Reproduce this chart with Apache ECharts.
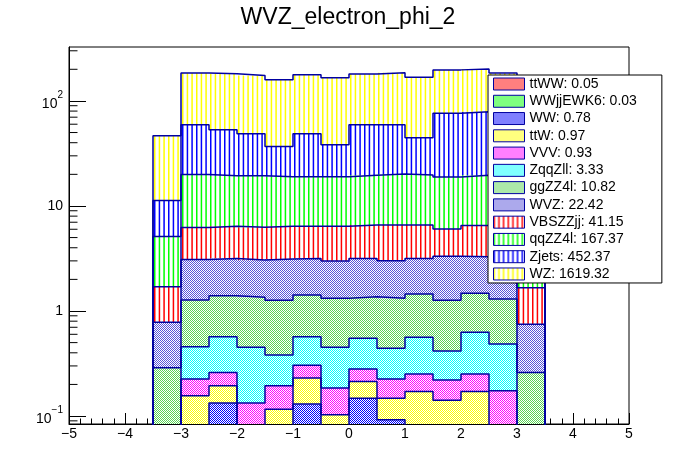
<!DOCTYPE html>
<html>
<head>
<meta charset="utf-8">
<script src="https://cdn.jsdelivr.net/npm/echarts@6.0.0/dist/echarts.min.js"></script>
<style>
  html, body { margin: 0; padding: 0; background: #fff; }
  #chart { width: 696px; height: 472px; }
</style>
</head>
<body>
<div id="chart"></div>
<script>
// bin edges of the phi histogram (0.5 wide, -3.5 .. 3.5)
const binEdges = [-3.5, -3, -2.5, -2, -1.5, -1, -0.5, 0, 0.5, 1, 1.5, 2, 2.5, 3, 3.5];

// bin contents per process, stacked bottom -> top in this order
const ttWW     = [0.002, 0.004, 0.004, 0.004, 0.004, 0.004, 0.004, 0.004, 0.004, 0.004, 0.004, 0.004, 0.004, 0.002];
const WWjjEWK6 = [0.001, 0.002, 0.002, 0.002, 0.002, 0.002, 0.002, 0.002, 0.002, 0.002, 0.002, 0.002, 0.002, 0.001];
const WW       = [0.005, 0.020, 0.127, 0.030, 0.040, 0.124, 0.030, 0.142, 0.086, 0.030, 0.030, 0.030, 0.030, 0.005];
const ttW      = [0.003, 0.130, 0.061, 0.030, 0.070, 0.100, 0.067, 0.065, 0.056, 0.135, 0.105, 0.135, 0.030, 0.003];
const VVV      = [0.010, 0.069, 0.066, 0.067, 0.078, 0.075, 0.082, 0.067, 0.077, 0.080, 0.079, 0.080, 0.108, 0.010];
const ZqqZll   = [0.040, 0.233, 0.310, 0.319, 0.188, 0.265, 0.267, 0.270, 0.217, 0.312, 0.197, 0.377, 0.312, 0.040];
const ggZZ4l   = [0.227, 0.814, 0.827, 0.897, 0.882, 0.849, 0.868, 0.817, 0.878, 0.887, 0.847, 0.845, 0.814, 0.199];
const WVZ      = [0.493, 1.825, 1.769, 1.702, 1.854, 1.747, 1.665, 1.799, 1.684, 1.716, 2.065, 1.820, 1.850, 0.488];
const VBSZZjj  = [0.920, 3.138, 3.251, 3.226, 3.299, 3.251, 3.432, 3.435, 3.597, 3.435, 2.718, 3.222, 3.250, 0.916];
const qqZZ4l   = [3.42, 13.64, 13.02, 13.16, 12.60, 12.60, 12.52, 12.96, 13.53, 13.10, 12.80, 13.05, 13.10, 3.54];
const Zjets    = [6.13, 39.4, 33.8, 29.3, 17.7, 29.7, 19.4, 39.7, 39.2, 24.9, 57.6, 59.4, 50.0, 6.3];
const WZ       = [35.4, 125.6, 127.7, 125.6, 121.9, 128.3, 127.8, 121.6, 125.6, 123.4, 121.0, 122.7, 114.6, 36.0];

const processNames  = ['ttWW', 'WWjjEWK6', 'WW', 'ttW', 'VVV', 'ZqqZll', 'ggZZ4l', 'WVZ', 'VBSZZjj', 'qqZZ4l', 'Zjets', 'WZ'];
const processValues = [ttWW, WWjjEWK6, WW, ttW, VVV, ZqqZll, ggZZ4l, WVZ, VBSZZjj, qqZZ4l, Zjets, WZ];
const processTotals = [0.05, 0.03, 0.78, 0.97, 0.93, 3.33, 10.82, 22.42, 41.15, 167.37, 452.37, 1619.32];
const processColors = ['#ff0000', '#00ff00', '#0000ff', '#ffff00', '#ff00ff', '#00ffff', '#59d454', '#5954d9',
                       '#ff0000', '#00ff00', '#0000ff', '#ffff00'];
const processHatch  = ['dots', 'dots', 'dots', 'dots', 'dots', 'dots', 'dots', 'dots',
                       'vlines', 'vlines', 'vlines', 'vlines'];

// y axis tick labels (log decades)
const yTickExponents = [-1, 0, 1, 2];
const yTickLabels = ['{b|10}{s|\u22121}', '{n|1}', '{n|10}', '{b|10}{s|2}'];

const Y_MIN = 0.084;
const Y_MAX = 326;
const Y_FLOOR = 0.05;           // below the axis, gets clipped
const LINE_COLOR = '#0000a0';
const FONT = "'Liberation Sans', Arial, Helvetica, sans-serif";

// ROOT-like fill patterns drawn on small canvases
function makePattern(color, kind) {
    const c = document.createElement('canvas');
    let g;
    if (kind === 'dots') {
        c.width = 2; c.height = 2;
        g = c.getContext('2d');
        g.fillStyle = '#ffffff'; g.fillRect(0, 0, 2, 2);
        g.fillStyle = color;
        g.fillRect(0, 0, 1, 1);
        g.fillRect(1, 1, 1, 1);
    } else {
        c.width = 14; c.height = 4;
        g = c.getContext('2d');
        g.fillStyle = '#ffffff'; g.fillRect(0, 0, 14, 4);
        g.fillStyle = color;
        [0, 4.67, 9.33].forEach(x => g.fillRect(x, 0, 1.5, 4));
    }
    return { image: c, repeat: 'repeat' };
}

const patterns = processColors.map((col, k) => makePattern(col, processHatch[k]));

// cumulative stack levels
const cum = [];
processValues.forEach((vals, k) => {
    cum.push(vals.map((v, i) => (k ? cum[k - 1][i] : 0) + v));
});

const fillSeries = processNames.map((name, k) => ({
    name: name,
    type: 'custom',
    coordinateSystem: 'cartesian2d',
    clip: true,
    z: 2,
    silent: true,
    itemStyle: { color: patterns[k], borderColor: LINE_COLOR, borderWidth: 1 },
    encode: { x: [0, 1], y: 3 },
    data: processValues[k].map((v, i) => [binEdges[i], binEdges[i + 1], k ? cum[k - 1][i] : 0, cum[k][i]]),
    renderItem: (params, api) => {
        const lo = Math.min(Math.max(api.value(2), Y_MIN), Y_MAX);
        const hi = Math.min(Math.max(api.value(3), Y_MIN), Y_MAX);
        if (hi <= lo) return null;
        const a = api.coord([api.value(0), lo]);
        const b = api.coord([api.value(1), hi]);
        return {
            type: 'rect',
            shape: { x: a[0], y: b[1], width: b[0] - a[0], height: a[1] - b[1] },
            style: { fill: patterns[k] }
        };
    }
}));

// step outline of every cumulative histogram
const outlineSeries = cum.map(level => {
    const pts = [[binEdges[0], Y_FLOOR]];
    level.forEach((v, i) => {
        const y = Math.max(v, Y_FLOOR);
        pts.push([binEdges[i], y], [binEdges[i + 1], y]);
    });
    pts.push([binEdges[binEdges.length - 1], Y_FLOOR]);
    return {
        type: 'line',
        data: pts,
        symbol: 'none',
        showSymbol: false,
        clip: true,
        silent: true,
        z: 3,
        lineStyle: { color: LINE_COLOR, width: 1.5 }
    };
});

// log minor ticks 2..9 per decade
const yMinorTicks = [];
for (let e = -2; e <= 2; e++) {
    for (let m = 2; m <= 9; m++) {
        const v = m * Math.pow(10, e);
        if (v > Y_MIN && v < Y_MAX) yMinorTicks.push(v);
    }
}

const minorTickSeries = {
    type: 'custom',
    coordinateSystem: 'cartesian2d',
    silent: true,
    z: 5,
    encode: { x: 0, y: 1 },
    data: yMinorTicks.map(v => [0, v]),
    renderItem: (params, api) => {
        const y = api.coord([0, api.value(1)])[1];
        const x = params.coordSys.x;
        return {
            type: 'line',
            shape: { x1: x, y1: y, x2: x + 8.5, y2: y },
            style: { stroke: '#000', lineWidth: 1 }
        };
    }
};

const chart = echarts.init(document.getElementById('chart'));

chart.setOption({
    animation: false,
    backgroundColor: '#ffffff',
    textStyle: { fontFamily: FONT },
    title: {
        text: 'WVZ_electron_phi_2',
        left: 'center',
        top: 1,
        textStyle: { fontSize: 23, fontWeight: 'normal', color: '#000', fontFamily: FONT }
    },
    legend: {
        data: processNames,
        orient: 'vertical',
        left: 488,
        top: 75,
        icon: 'rect',
        itemWidth: 31,
        itemHeight: 12,
        itemGap: 3.27,
        padding: [2, 25, 2, 5],
        backgroundColor: '#ffffff',
        borderColor: '#000',
        borderWidth: 1,
        selectedMode: false,
        itemStyle: { borderColor: LINE_COLOR, borderWidth: 1 },
        textStyle: { fontSize: 14, lineHeight: 14, color: '#000', fontFamily: FONT },
        formatter: name => name + ': ' + processTotals[processNames.indexOf(name)].toFixed(2)
    },
    grid: {
        left: 69, right: 67, top: 47, bottom: 48,
        containLabel: false,
        show: true,
        borderColor: '#000',
        borderWidth: 1,
        backgroundColor: 'transparent'
    },
    xAxis: {
        type: 'value',
        min: -5,
        max: 5,
        interval: 1,
        axisLine: { show: true, onZero: false, lineStyle: { color: '#000', width: 1 } },
        axisTick: { show: true, inside: true, length: 11, lineStyle: { color: '#000' } },
        minorTick: { show: true, splitNumber: 5, length: 5.5, lineStyle: { color: '#000' } },
        splitLine: { show: false },
        minorSplitLine: { show: false },
        axisLabel: {
            margin: 3,
            fontSize: 14,
            color: '#000',
            fontFamily: FONT,
            formatter: v => String(v).replace('-', '\u2212')
        }
    },
    yAxis: {
        type: 'log',
        logBase: 10,
        min: Y_MIN,
        max: Y_MAX,
        axisLine: { show: true, onZero: false, lineStyle: { color: '#000', width: 1 } },
        axisTick: { show: true, inside: true, length: 17, lineStyle: { color: '#000' } },
        splitLine: { show: false },
        axisLabel: {
            margin: 6,
            color: '#000',
            fontFamily: FONT,
            showMinLabel: false,
            showMaxLabel: false,
            formatter: value => {
                const e = Math.round(Math.log10(value));
                const idx = yTickExponents.indexOf(e);
                return idx >= 0 ? yTickLabels[idx] : '';
            },
            rich: {
                n: { fontSize: 14, color: '#000', fontFamily: FONT },
                b: { fontSize: 14, color: '#000', fontFamily: FONT, padding: [7, 0, 0, 0], verticalAlign: 'bottom' },
                s: { fontSize: 10, color: '#000', fontFamily: FONT, verticalAlign: 'top' }
            }
        }
    },
    series: [...fillSeries, ...outlineSeries, minorTickSeries]
});

window.addEventListener('resize', () => chart.resize());
</script>
</body>
</html>
